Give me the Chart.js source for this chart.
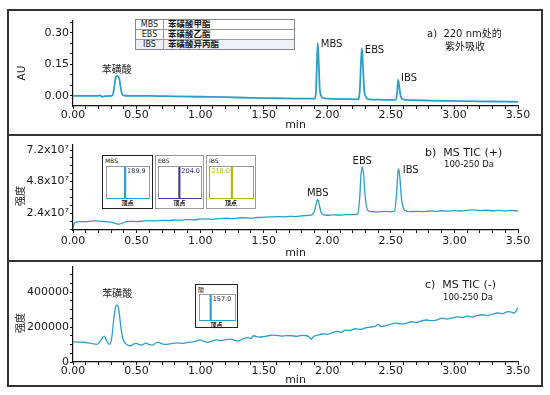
<!DOCTYPE html>
<html>
<head>
<meta charset="utf-8">
<title>Chromatograms</title>
<script src="https://cdn.jsdelivr.net/npm/chart.js@4.4.1/dist/chart.umd.min.js"></script>
<style>
  body { margin: 0; width: 550px; height: 395px; background: #fff; position: relative; overflow: hidden;
         font-family: "DejaVu Sans", "Noto Sans CJK SC", sans-serif; color: #1a1a1a; }
  .frame { position: absolute; left: 7px; width: 536px; box-sizing: border-box; border: 2px solid #333; }
  canvas.main { position: absolute; left: 8px; }
  .note { position: absolute; white-space: nowrap; line-height: 12px; }
  .ytitle { position: absolute; white-space: nowrap; line-height: 12px; transform: translate(-50%, -50%) rotate(-90deg); }
  #legendTable { position: absolute; left: 135px; top: 19px; width: 158px; border: 1px solid #888; font-size: 8px; background: #fff; }
  #legendTable .row { display: flex; height: 9px; line-height: 9px; border-top: 1px solid #999; }
  #legendTable .row:first-child { border-top: none; }
  #legendTable .row.shade { background: #edf0f7; }
  #legendTable .abbr { width: 27px; text-align: center; border-right: 1px solid #999; }
  #legendTable .name { padding-left: 4px; flex: 1; font-size: 8.5px; font-weight: 600; }
  .inset { position: absolute; box-sizing: border-box; border: 1.5px solid #999; background: #fff; }
  .inset .tag { position: absolute; left: 2px; top: 1px; font-size: 6px; line-height: 7px; }
  .inset .plot { position: absolute; box-sizing: content-box; border: 1px solid #999; border-bottom-width: 1.5px; }
  .inset .plot canvas { display: block; }
  .inset .foot { position: absolute; left: 0; right: 0; text-align: center; font-size: 6px; line-height: 7px; font-weight: bold; }
</style>
</head>
<body>

<div class="frame" style="top:9px; height:127px;"></div>
<div class="frame" style="top:134px; height:128px;"></div>
<div class="frame" style="top:260px; height:127px;"></div>

<canvas class="main" id="uvChart" width="534" height="121" style="top:11px;"></canvas>
<canvas class="main" id="posChart" width="534" height="125" style="top:135px;"></canvas>
<canvas class="main" id="negChart" width="534" height="130" style="top:257px;"></canvas>

<div class="ytitle" style="left:21px; top:73px; font-size:10.5px;">AU</div>
<div class="ytitle" style="left:21px; top:196px; font-size:10px;">强度</div>
<div class="ytitle" style="left:21px; top:323px; font-size:10px;">强度</div>

<div id="legendTable"></div>

<div class="note" style="left:427px; top:28px; font-size:10px;">a)&nbsp; 220 nm处的</div>
<div class="note" style="left:445px; top:41px; font-size:10px;">紫外吸收</div>
<div class="note" style="left:425px; top:147px; font-size:11px;">b)&nbsp; MS TIC (+)</div>
<div class="note" style="left:444px; top:158px; font-size:8.5px;">100-250 Da</div>
<div class="note" style="left:425px; top:279px; font-size:11px;">c)&nbsp; MS TIC (-)</div>
<div class="note" style="left:443px; top:291px; font-size:8.5px;">100-250 Da</div>

<script>
// UV trace at 220 nm (AU)
const uvTime = [
  0.00, 0.10, 0.19, 0.21, 0.23, 0.25, 0.30, 0.315, 0.325, 0.335,
  0.345, 0.355, 0.365, 0.375, 0.385, 0.40, 0.45, 0.60, 0.80, 1.00,
  1.20, 1.40, 1.60, 1.80, 1.90, 1.91, 1.918, 1.925, 1.932, 1.94,
  1.95, 1.97, 2.05, 2.15, 2.24, 2.255, 2.265, 2.272, 2.28, 2.29,
  2.30, 2.32, 2.40, 2.50, 2.54, 2.55, 2.557, 2.565, 2.575, 2.59,
  2.65, 2.80, 3.00, 3.20, 3.40, 3.50
];
const uvAbs = [
  0.000, 0.000, 0.000, 0.003, -0.004, -0.001, 0.000, 0.008, 0.045, 0.085,
  0.095, 0.094, 0.080, 0.040, 0.010, 0.002, 0.000, 0.000, -0.002, -0.004,
  -0.006, -0.009, -0.011, -0.013, -0.013, 0.010, 0.150, 0.252, 0.170, 0.040,
  0.002, -0.011, -0.014, -0.015, -0.016, 0.020, 0.160, 0.228, 0.150, 0.030,
  0.000, -0.015, -0.018, -0.019, -0.019, 0.020, 0.076, 0.050, 0.005, -0.015,
  -0.020, -0.022, -0.024, -0.026, -0.027, -0.028
];

// MS TIC (+), signal in units of 1e7
const ticPosTime = [
  0.00, 0.01, 0.03, 0.06, 0.10, 0.14, 0.18, 0.22, 0.26, 0.30,
  0.33, 0.36, 0.39, 0.42, 0.46, 0.50, 0.55, 0.60, 0.65, 0.70,
  0.75, 0.80, 0.85, 0.90, 0.95, 1.00, 1.05, 1.10, 1.15, 1.20,
  1.25, 1.30, 1.35, 1.40, 1.45, 1.50, 1.55, 1.60, 1.65, 1.70,
  1.75, 1.80, 1.85, 1.88, 1.90, 1.915, 1.925, 1.935, 1.95, 1.97,
  2.00, 2.05, 2.10, 2.15, 2.20, 2.24, 2.255, 2.265, 2.275, 2.285,
  2.30, 2.32, 2.35, 2.40, 2.45, 2.50, 2.53, 2.545, 2.555, 2.562,
  2.57, 2.585, 2.61, 2.65, 2.70, 2.75, 2.80, 2.85, 2.90, 2.95,
  3.00, 3.05, 3.10, 3.15, 3.20, 3.25, 3.30, 3.35, 3.40, 3.45,
  3.50
];
const ticPosSignal = [
  1.20, 1.62, 1.74, 1.77, 1.75, 1.80, 1.82, 1.79, 1.76, 1.72,
  1.64, 1.57, 1.66, 1.76, 1.79, 1.77, 1.81, 1.84, 1.82, 1.86,
  1.85, 1.89, 1.88, 1.92, 1.90, 1.95, 1.97, 1.94, 1.99, 2.02,
  1.99, 2.04, 2.06, 2.03, 2.08, 2.10, 2.12, 2.15, 2.13, 2.17,
  2.15, 2.20, 2.24, 2.27, 2.60, 3.20, 3.46, 3.15, 2.50, 2.28,
  2.25, 2.28, 2.26, 2.30, 2.29, 2.35, 3.60, 5.30, 5.89, 5.40,
  3.50, 2.60, 2.52, 2.50, 2.54, 2.52, 2.60, 3.90, 5.40, 5.76,
  5.20, 3.40, 2.62, 2.52, 2.55, 2.53, 2.57, 2.54, 2.59, 2.56,
  2.60, 2.57, 2.62, 2.66, 2.60, 2.63, 2.59, 2.62, 2.58, 2.61,
  2.58
];

// MS TIC (-)
const ticNegTime = [
  0.00, 0.04, 0.08, 0.12, 0.16, 0.19, 0.22, 0.245, 0.265, 0.285,
  0.305, 0.32, 0.335, 0.348, 0.36, 0.375, 0.39, 0.41, 0.435, 0.455,
  0.48, 0.50, 0.52, 0.54, 0.56, 0.58, 0.60, 0.63, 0.65, 0.67,
  0.70, 0.74, 0.78, 0.82, 0.86, 0.90, 0.94, 0.97, 1.00, 1.03,
  1.06, 1.09, 1.13, 1.16, 1.20, 1.24, 1.27, 1.30, 1.34, 1.37,
  1.40, 1.42, 1.46, 1.50, 1.54, 1.57, 1.60, 1.64, 1.68, 1.72,
  1.76, 1.80, 1.84, 1.86, 1.875, 1.89, 1.92, 1.96, 2.00, 2.04,
  2.08, 2.11, 2.14, 2.18, 2.22, 2.26, 2.30, 2.34, 2.38, 2.40,
  2.42, 2.46, 2.50, 2.54, 2.58, 2.62, 2.66, 2.70, 2.74, 2.78,
  2.82, 2.86, 2.90, 2.94, 2.98, 3.02, 3.06, 3.10, 3.14, 3.18,
  3.22, 3.26, 3.30, 3.34, 3.38, 3.42, 3.45, 3.47, 3.50
];
const ticNegSignal = [
  116000, 114000, 113000, 109000, 103000, 101000, 125000, 148000, 120000, 101000,
  140000, 240000, 315000, 326000, 300000, 210000, 140000, 108000, 95000, 93000,
  104000, 107000, 99000, 97000, 104000, 108000, 99000, 97000, 110000, 112000,
  104000, 101000, 106000, 109000, 106000, 112000, 115000, 120000, 126000, 118000,
  112000, 119000, 126000, 122000, 128000, 131000, 124000, 120000, 133000, 139000,
  134000, 150000, 142000, 145000, 150000, 154000, 152000, 148000, 151000, 150000,
  147000, 152000, 150000, 141000, 130000, 145000, 152000, 160000, 158000, 168000,
  175000, 170000, 182000, 180000, 190000, 186000, 195000, 200000, 205000, 215000,
  203000, 208000, 216000, 222000, 218000, 221000, 230000, 226000, 235000, 240000,
  236000, 240000, 250000, 245000, 252000, 258000, 255000, 262000, 257000, 266000,
  270000, 265000, 274000, 280000, 277000, 288000, 285000, 280000, 310000
];

// axis ticks
const xMajorTicks = [0, 0.5, 1.0, 1.5, 2.0, 2.5, 3.0, 3.5];
const uvYTicks = [0, 0.15, 0.30];
const ticPosYTicks = [2.4, 4.8, 7.2];
const ticNegYTicks = [0, 200000, 400000];

// peak annotations
const uvPeakNames = ['苯磺酸', 'MBS', 'EBS', 'IBS'];
const uvPeakTimes = [0.345, 1.925, 2.272, 2.557];
const uvPeakHeights = [0.095, 0.252, 0.228, 0.076];
const posPeakNames = ['MBS', 'EBS', 'IBS'];
const posPeakTimes = [1.925, 2.275, 2.562];
const posPeakHeights = [3.46, 5.89, 5.76];
const negPeakNames = ['苯磺酸'];
const negPeakTimes = [0.348];
const negPeakHeights = [326000];

// compound table
const legendAbbr = ['MBS', 'EBS', 'IBS'];
const legendNames = ['苯磺酸甲酯', '苯磺酸乙酯', '苯磺酸异丙酯'];

// apex mass spectra insets
const insetTags = ['MBS', 'EBS', 'IBS', '酸'];
const insetMz = [189.9, 204.0, 218.0, 157.0];
const insetWindow = [[150, 260], [150, 265], [160, 272], [150, 214]];

const lineColor = '#2b9fc6';
const fontFamily = '"DejaVu Sans", "Noto Sans CJK SC", sans-serif';
Chart.defaults.font.family = fontFamily;
Chart.defaults.color = '#1a1a1a';

// label placement relative to each peak apex (pixels)
const uvLabelStyle = [
  { dx: 0, dy: -6, align: 'center' },
  { dx: 3, dy: 1, align: 'left' },
  { dx: 3, dy: 2, align: 'left' },
  { dx: 3, dy: -2, align: 'left' }
];
const posLabelStyle = [
  { dx: 0, dy: -6, align: 'center' },
  { dx: 0, dy: -6, align: 'center' },
  { dx: 4, dy: 1, align: 'left' }
];
const negLabelStyle = [
  { dx: 0, dy: -11, align: 'center' }
];

const peakLabelPlugin = {
  id: 'peakLabels',
  afterDatasetsDraw(chart, args, opts) {
    const ctx = chart.ctx;
    const xs = chart.scales.x;
    const ys = chart.scales.y;
    ctx.save();
    ctx.font = '10px ' + fontFamily;
    ctx.fillStyle = '#1a1a1a';
    ctx.textBaseline = 'middle';
    opts.names.forEach((name, i) => {
      const st = opts.style[i];
      ctx.textAlign = st.align;
      ctx.fillText(name, xs.getPixelForValue(opts.times[i]) + st.dx, ys.getPixelForValue(opts.heights[i]) + st.dy);
    });
    ctx.restore();
  }
};

function buildTicks(min, max, step) {
  const list = [];
  const start = Math.ceil(min / step - 1e-9);
  const end = Math.floor(max / step + 1e-9);
  for (let k = start; k <= end; k++) {
    list.push({ value: Math.round(k * step * 1e6) / 1e6 });
  }
  return list;
}

function isIn(list, v) {
  return list.some(m => Math.abs(m - v) < 1e-6 * Math.max(1, Math.abs(m)));
}

function makeChart(id, times, values, cfg) {
  const points = times.map((t, i) => ({ x: t, y: values[i] }));
  return new Chart(document.getElementById(id), {
    type: 'scatter',
    data: {
      datasets: [{
        data: points,
        showLine: true,
        borderColor: lineColor,
        borderWidth: cfg.lineWidth,
        pointRadius: 0,
        cubicInterpolationMode: 'monotone',
        fill: false
      }]
    },
    options: {
      responsive: false,
      animation: false,
      events: [],
      layout: { padding: { left: 0, right: 24, top: 10, bottom: 0 } },
      plugins: {
        legend: { display: false },
        tooltip: { enabled: false },
        peakLabels: cfg.labels
      },
      scales: {
        x: {
          type: 'linear',
          min: 0,
          max: 3.5,
          afterBuildTicks: s => { s.ticks = buildTicks(0, 3.5, 0.1); },
          afterFit: s => { s.height = cfg.xHeight; },
          ticks: {
            autoSkip: false,
            maxRotation: 0,
            padding: cfg.xPad,
            font: { size: 11 },
            color: '#1a1a1a',
            callback: v => isIn(xMajorTicks, v) ? v.toFixed(2) : ''
          },
          grid: { display: true, drawOnChartArea: false, drawTicks: true, tickLength: 3, tickColor: '#111', tickWidth: 1 },
          border: { display: true, color: '#111', width: 1.2 },
          title: { display: true, text: 'min', padding: 0, font: { size: 11 }, color: '#1a1a1a' }
        },
        y: {
          type: 'linear',
          min: cfg.yMin,
          max: cfg.yMax,
          afterBuildTicks: s => { s.ticks = buildTicks(cfg.yMin, cfg.yMax, cfg.yMinor); },
          afterFit: s => { s.width = 65; },
          ticks: {
            autoSkip: false,
            padding: 1,
            font: { size: 11 },
            color: '#1a1a1a',
            callback: v => isIn(cfg.yMajor, v) ? cfg.fmt(v) : ''
          },
          grid: { display: true, drawOnChartArea: false, drawTicks: true, tickLength: 3, tickColor: '#111', tickWidth: 1 },
          border: { display: true, color: '#111', width: 1.2 }
        }
      }
    },
    plugins: [peakLabelPlugin]
  });
}

makeChart('uvChart', uvTime, uvAbs, {
  lineWidth: 1.8, xHeight: 26, xPad: 0,
  yMin: -0.048, yMax: 0.357, yMinor: 0.05, yMajor: uvYTicks,
  fmt: v => v.toFixed(2),
  labels: { names: uvPeakNames, times: uvPeakTimes, heights: uvPeakHeights, style: uvLabelStyle }
});

makeChart('posChart', ticPosTime, ticPosSignal, {
  lineWidth: 1.3, xHeight: 30, xPad: 2,
  yMin: 1.13, yMax: 7.58, yMinor: 0.6, yMajor: ticPosYTicks,
  fmt: v => v.toFixed(1) + 'x10\u2077',
  labels: { names: posPeakNames, times: posPeakTimes, heights: posPeakHeights, style: posLabelStyle }
});

makeChart('negChart', ticNegTime, ticNegSignal, {
  lineWidth: 1.3, xHeight: 25, xPad: 0,
  yMin: 0, yMax: 543000, yMinor: 50000, yMajor: ticNegYTicks,
  fmt: v => String(v),
  labels: { names: negPeakNames, times: negPeakTimes, heights: negPeakHeights, style: negLabelStyle }
});

// compound table
const table = document.getElementById('legendTable');
legendAbbr.forEach((abbr, i) => {
  const row = document.createElement('div');
  row.className = 'row' + (i === 2 ? ' shade' : '');
  row.innerHTML = '<span class="abbr">' + abbr + '</span><span class="name">' + legendNames[i] + '</span>';
  table.appendChild(row);
});

// inset boxes: position / look only
const insetBoxes = [
  { left: 102, top: 155, w: 51, h: 54, border: '#222', px: 3, py: 10, pw: 42, ph: 31, color: '#2b9fc6', text: '#1d2b3a', side: 'right' },
  { left: 155, top: 155, w: 49, h: 54, border: '#999', px: 2, py: 10, pw: 42, ph: 31, color: '#4a3b8f', text: '#3a2d75', side: 'right' },
  { left: 206, top: 155, w: 50, h: 54, border: '#999', px: 2, py: 10, pw: 43, ph: 31, color: '#b4b41e', text: '#b4b41e', side: 'left' },
  { left: 195, top: 284, w: 43, h: 44, border: '#222', px: 3, py: 9, pw: 35, ph: 25, color: '#2b9fc6', text: '#1d2b3a', side: 'right' }
];

const mzLabelPlugin = {
  id: 'mzLabel',
  afterDatasetsDraw(chart, args, opts) {
    const ctx = chart.ctx;
    const x = chart.scales.x.getPixelForValue(opts.mz);
    ctx.save();
    ctx.font = '6.5px ' + fontFamily;
    ctx.fillStyle = opts.color;
    ctx.textBaseline = 'top';
    ctx.textAlign = opts.side === 'left' ? 'right' : 'left';
    ctx.fillText(opts.mz.toFixed(1), x + (opts.side === 'left' ? -2 : 2), 1);
    ctx.restore();
  }
};

insetBoxes.forEach((b, i) => {
  const box = document.createElement('div');
  box.className = 'inset';
  box.style.cssText = 'left:' + b.left + 'px;top:' + b.top + 'px;width:' + b.w + 'px;height:' + b.h + 'px;border-color:' + b.border + ';';
  const tag = document.createElement('div');
  tag.className = 'tag';
  tag.textContent = insetTags[i];
  box.appendChild(tag);
  const plot = document.createElement('div');
  plot.className = 'plot';
  plot.style.cssText = 'left:' + b.px + 'px;top:' + b.py + 'px;width:' + b.pw + 'px;height:' + b.ph + 'px;border-bottom-color:' + b.color + ';';
  const cv = document.createElement('canvas');
  cv.width = b.pw;
  cv.height = b.ph;
  plot.appendChild(cv);
  box.appendChild(plot);
  const foot = document.createElement('div');
  foot.className = 'foot';
  foot.style.top = (b.py + b.ph + 2) + 'px';
  foot.textContent = '顶点';
  box.appendChild(foot);
  document.body.appendChild(box);

  new Chart(cv, {
    type: 'bar',
    data: { datasets: [{ data: [{ x: insetMz[i], y: 1 }], backgroundColor: b.color, barThickness: 1.5 }] },
    options: {
      responsive: false,
      animation: false,
      events: [],
      layout: { padding: 0 },
      plugins: { legend: { display: false }, tooltip: { enabled: false }, mzLabel: { mz: insetMz[i], color: b.text, side: b.side } },
      scales: {
        x: { type: 'linear', min: insetWindow[i][0], max: insetWindow[i][1], display: false },
        y: { min: 0, max: 1, display: false }
      }
    },
    plugins: [mzLabelPlugin]
  });
});
</script>
</body>
</html>
